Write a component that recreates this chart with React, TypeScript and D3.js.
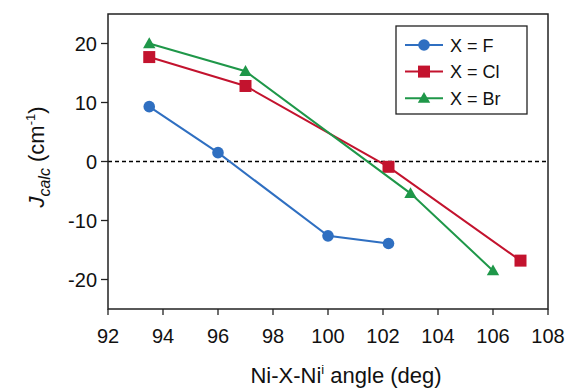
import React from "react";
import * as d3 from "d3";

const xTicks = [92, 94, 96, 98, 100, 102, 104, 106, 108];
const yTicks = [-20, -10, 0, 10, 20];

const fX = [93.5, 96, 100, 102.2];
const fY = [9.3, 1.5, -12.6, -13.9];
const clX = [93.5, 97, 102.2, 107];
const clY = [17.7, 12.8, -0.9, -16.8];
const brX = [93.5, 97, 103, 106];
const brY = [20.0, 15.3, -5.4, -18.5];

const seriesNames = ["X = F", "X = Cl", "X = Br"];
const colors = ["#2f6fc1", "#c3132e", "#1f9749"];
const markers = ["circle", "square", "triangle"];

const W = 569;
const H = 389;
const M = { left: 108, right: 548, top: 14, bottom: 309 };
const font = "Liberation Sans, Arial, Helvetica, sans-serif";

function Marker({ type, x, y, color }: { type: string; x: number; y: number; color: string }) {
  if (type === "circle") return <circle cx={x} cy={y} r={5.8} fill={color} />;
  if (type === "square") return <rect x={x - 6} y={y - 6} width={12} height={12} fill={color} />;
  const s = 6.2;
  return <path d={`M${x},${y - s}L${x + s},${y + s * 0.75}L${x - s},${y + s * 0.75}Z`} fill={color} />;
}

export default function App() {
  const x = d3.scaleLinear().domain([92, 108]).range([M.left, M.right]);
  const y = d3.scaleLinear().domain([-25, 25]).range([M.bottom, M.top]);
  const line = d3
    .line<[number, number]>()
    .x((d) => x(d[0]))
    .y((d) => y(d[1]));
  const series = [
    { xs: fX, ys: fY },
    { xs: clX, ys: clY },
    { xs: brX, ys: brY },
  ];
  const legX = 396;
  const legY = 26;
  return (
    <svg width={W} height={H} style={{ position: "absolute", left: 0, top: 0, fontFamily: font }}>
      <rect width={W} height={H} fill="#fff" />
      <line x1={M.left} x2={M.right} y1={y(0)} y2={y(0)} stroke="#000" strokeWidth={1.3} strokeDasharray="4,3" />
      {series.map((s, i) => {
        const pts = s.xs.map((v, j) => [v, s.ys[j]] as [number, number]);
        return (
          <g key={i}>
            <path d={line(pts) || ""} fill="none" stroke={colors[i]} strokeWidth={2} />
            {pts.map((p, j) => (
              <Marker key={j} type={markers[i]} x={x(p[0])} y={y(p[1])} color={colors[i]} />
            ))}
          </g>
        );
      })}
      <rect x={M.left} y={M.top} width={M.right - M.left} height={M.bottom - M.top} fill="none" stroke="#222" strokeWidth={1.5} />
      {xTicks.map((t) => (
        <g key={t}>
          <line x1={x(t)} x2={x(t)} y1={M.bottom} y2={M.bottom + 6} stroke="#222" strokeWidth={1.3} />
          <text x={x(t)} y={343} textAnchor="middle" fontSize={20} fill="#111">
            {t}
          </text>
        </g>
      ))}
      {yTicks.map((t) => (
        <g key={t}>
          <line x1={M.left - 7} x2={M.left} y1={y(t)} y2={y(t)} stroke="#222" strokeWidth={1.3} />
          <text x={M.left - 11} y={y(t) + 7} textAnchor="end" fontSize={20} fill="#111">
            {t}
          </text>
        </g>
      ))}
      <text x={(M.left + M.right) / 2 + 18} y={383} textAnchor="middle" fontSize={22} fill="#111">
        Ni-X-Ni
        <tspan dy={-9} fontSize={13}>i</tspan>
        <tspan dy={9}> angle (deg)</tspan>
      </text>
      <text transform={`translate(44, 157) rotate(-90)`} textAnchor="middle" fontSize={22} fill="#111">
        <tspan fontStyle="italic">J</tspan>
        <tspan fontStyle="italic" fontSize={16} dy={6}>calc</tspan>
        <tspan dy={-6}> (cm</tspan>
        <tspan fontSize={13} dy={-9}>-1</tspan>
        <tspan dy={9}>)</tspan>
      </text>
      <rect x={legX} y={legY} width={131} height={88} fill="#fff" stroke="#222" strokeWidth={1.3} />
      {seriesNames.map((n, i) => {
        const cy = 45 + i * 26.6;
        return (
          <g key={n}>
            <line x1={405} x2={443} y1={cy} y2={cy} stroke={colors[i]} strokeWidth={2} />
            <Marker type={markers[i]} x={424} y={cy} color={colors[i]} />
            <text x={450} y={cy + 6.5} fontSize={18} fill="#111">
              {n}
            </text>
          </g>
        );
      })}
    </svg>
  );
}
